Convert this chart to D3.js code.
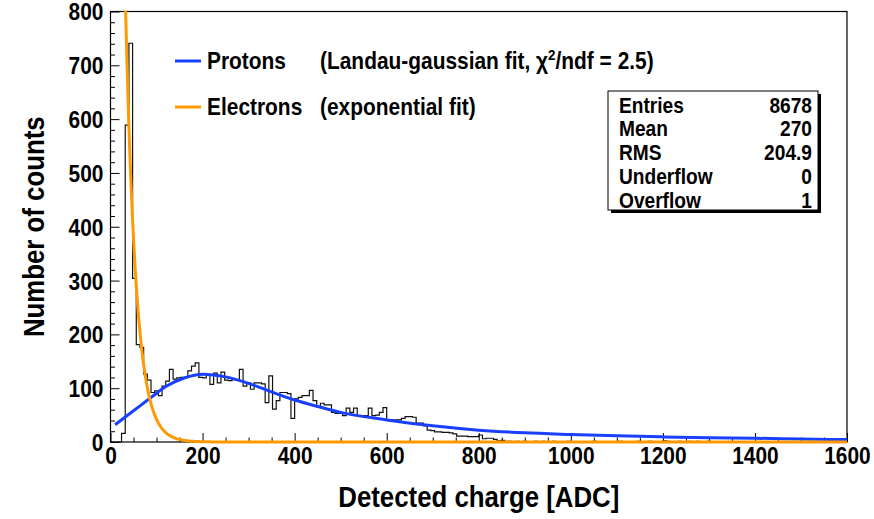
<!DOCTYPE html>
<html>
<head>
<meta charset="utf-8">
<script src="https://cdn.jsdelivr.net/npm/d3@7"></script>
<style>
  body { margin: 0; background: #fff; }
  svg { display: block; }
  text { font-family: "Liberation Sans", Arial, Helvetica, sans-serif; font-weight: bold; fill: #000; }
</style>
</head>
<body>
<svg id="chart" width="874" height="519"></svg>
<script>
// ---- data ---------------------------------------------------------------
// Histogram: counts per 8-ADC bin, starting at 0 ADC
const binWidth = 8;
const binCounts = [
  0, 0, 0, 16, 589, 741, 304, 181, 176, 126,
  115, 92, 95, 86, 104, 113, 135, 117, 119, 120,
  120, 132, 141, 147, 120, 119, 125, 107, 128, 110,
  130, 115, 114, 116, 115, 135, 104, 110, 98, 110,
  110, 108, 73, 123, 61, 77, 92, 92, 90, 44,
  80, 83, 86, 86, 96, 77, 65, 72, 69, 69,
  55, 53, 53, 49, 63, 55, 63, 49, 49, 49,
  63, 49, 50, 55, 64, 40, 41, 41, 41, 44,
  47, 47, 46, 35, 35, 30, 22, 21, 19, 19,
  18, 18, 17, 15, 11, 11, 11, 10, 10, 10,
  13, 6, 7, 7, 5, 2, 3, 1, 1, 0,
  1, 0, 1, 0, 0, 1, 0, 1, 0, 0,
  1, 0, 0, 0, 1, 0, 0, 0, 0, 0,
  0, 1, 0, 0, 0, 0, 0, 0, 1, 0,
  0, 0, 0, 1, 0, 0, 1, 0, 0, 0,
  2, 1, 0, 0, 1, 0, 0, 1, 0, 1,
  0, 0, 1
];

// Landau-gaussian fit to the proton component (ADC, counts)
const protonFitX = [10, 50, 90, 120, 160, 200, 250, 300, 350, 400, 450, 500,
                    600, 700, 800, 900, 1000, 1100, 1200, 1300, 1400, 1500, 1600];
const protonFitY = [32, 58, 84, 103, 119, 126, 121, 109, 93, 78, 66, 55,
                    41, 30, 22, 17, 14, 11.5, 9.5, 8, 7, 5.5, 4.5];

// Exponential fit to the electron component: exp(constant + slope * x)
const electronConstant = 8.13;
const electronSlope = -0.0439;
const electronRange = [20, 1600];

const xTicks = [0, 200, 400, 600, 800, 1000, 1200, 1400, 1600];
const yTicks = [0, 100, 200, 300, 400, 500, 600, 700, 800];

const statsLabels = ["Entries", "Mean", "RMS", "Underflow", "Overflow"];
const statsValues = ["8678", "270", "204.9", "0", "1"];

const legendNames = ["Protons", "Electrons"];
const legendColors = ["#1a40ff", "#ff9900"];

// ---- layout -------------------------------------------------------------
const svg = d3.select("#chart");
const frame = { left: 110.5, right: 847, top: 11.5, bottom: 442 };
const narrow = 0.89;   // horizontal squeeze giving the condensed bold face

const x = d3.scaleLinear().domain([0, 1600]).range([frame.left, frame.right]);
const y = d3.scaleLinear().domain([0, 800]).range([frame.bottom, frame.top]);

// condensed text helper
function label(parent, px, py, str, size, anchor, rotate) {
  return parent.append("text")
    .attr("transform", `translate(${px},${py})${rotate ? " rotate(" + rotate + ")" : ""} scale(${narrow},1)`)
    .attr("text-anchor", anchor || "start")
    .attr("font-size", size)
    .text(str);
}

svg.append("defs").append("clipPath").attr("id", "frameClip")
  .append("rect")
  .attr("x", frame.left).attr("y", frame.top - 1)
  .attr("width", frame.right - frame.left).attr("height", frame.bottom - frame.top + 3);

// frame
svg.append("rect")
  .attr("x", frame.left).attr("y", frame.top)
  .attr("width", frame.right - frame.left).attr("height", frame.bottom - frame.top)
  .attr("fill", "none").attr("stroke", "#000").attr("stroke-width", 1.2);

// minor ticks
const yMinor = d3.range(0, 801, 20).filter(v => v % 100 !== 0);
const xMinor = d3.range(0, 1601, 50).filter(v => v % 200 !== 0);

const yAxisMinor = svg.append("g").attr("transform", `translate(${frame.left},0)`)
  .call(d3.axisLeft(y).tickValues(yMinor).tickSize(-4.5).tickFormat(""));
const xAxisMinor = svg.append("g").attr("transform", `translate(0,${frame.bottom})`)
  .call(d3.axisBottom(x).tickValues(xMinor).tickSize(-4.5).tickFormat(""));

// major ticks + labels
const yAxis = svg.append("g").attr("transform", `translate(${frame.left},0)`)
  .call(d3.axisLeft(y).tickValues(yTicks).tickSize(-9).tickPadding(8).tickFormat(d3.format("d")));
const xAxis = svg.append("g").attr("transform", `translate(0,${frame.bottom})`)
  .call(d3.axisBottom(x).tickValues(xTicks).tickSize(-9).tickPadding(5).tickFormat(d3.format("d")));

[yAxisMinor, xAxisMinor, yAxis, xAxis].forEach(g => {
  g.select(".domain").remove();
  g.selectAll(".tick line").attr("stroke", "#000").attr("stroke-width", 1);
  g.selectAll("text").attr("font-size", 23.5).attr("font-family", null).attr("fill", "#000")
    .attr("transform", `scale(${narrow},1)`);
});
yAxis.selectAll("text").attr("dy", "0.36em");

// axis titles
label(svg, 44, (frame.top + frame.bottom) / 2, "Number of counts", 29, "middle", -90);
label(svg, (frame.left + frame.right) / 2, 507, "Detected charge [ADC]", 29, "middle");

// ---- plot contents ------------------------------------------------------
const plot = svg.append("g").attr("clip-path", "url(#frameClip)");

// histogram outline
const nBins = 1600 / binWidth;
const histPoints = d3.range(nBins).map(k => [k * binWidth, binCounts[k] || 0]);
histPoints.push([1600, binCounts[nBins - 1] || 0]);
plot.append("path")
  .datum(histPoints)
  .attr("fill", "none").attr("stroke", "#111").attr("stroke-width", 1.2)
  .attr("d", d3.line().x(d => x(d[0])).y(d => y(d[1])).curve(d3.curveStepAfter));

// proton fit
plot.append("path")
  .datum(protonFitX.map((v, i) => [v, protonFitY[i]]))
  .attr("fill", "none").attr("stroke", legendColors[0]).attr("stroke-width", 3)
  .attr("d", d3.line().x(d => x(d[0])).y(d => y(d[1])).curve(d3.curveMonotoneX));

// electron fit
const electronPts = d3.range(electronRange[0], electronRange[1] + 0.1, 1)
  .map(v => [v, Math.exp(electronConstant + electronSlope * v)]);
plot.append("path")
  .datum(electronPts)
  .attr("fill", "none").attr("stroke", legendColors[1]).attr("stroke-width", 3)
  .attr("d", d3.line().x(d => x(d[0])).y(d => y(Math.min(d[1], 900))));

// ---- legend -------------------------------------------------------------
const legendRows = [61, 107];
legendNames.forEach((name, i) => {
  svg.append("line")
    .attr("x1", 175).attr("x2", 201).attr("y1", legendRows[i]).attr("y2", legendRows[i])
    .attr("stroke", legendColors[i]).attr("stroke-width", 3);
  label(svg, 207, legendRows[i] + 8, name, 23.5);
});
const note1 = label(svg, 320, legendRows[0] + 8, "", 23.5);
note1.append("tspan").text("(Landau-gaussian fit, \u03c7");
note1.append("tspan").attr("font-size", 15).attr("dy", -9).text("2");
note1.append("tspan").attr("dy", 9).text("/ndf = 2.5)");
label(svg, 320, legendRows[1] + 8, "(exponential fit)", 23.5);

// ---- statistics box -----------------------------------------------------
const box = { x: 608, y: 91, w: 210, h: 119 };
svg.append("rect")
  .attr("x", box.x + 3).attr("y", box.y + 3).attr("width", box.w).attr("height", box.h)
  .attr("fill", "#000");
svg.append("rect")
  .attr("x", box.x).attr("y", box.y).attr("width", box.w).attr("height", box.h)
  .attr("fill", "#fff").attr("stroke", "#000").attr("stroke-width", 1);
statsLabels.forEach((lab, i) => {
  const by = box.y + 21.5 + i * 23.8;
  label(svg, box.x + 11, by, lab, 21.5);
  label(svg, box.x + box.w - 6, by, statsValues[i], 21.5, "end");
});
</script>
</body>
</html>
